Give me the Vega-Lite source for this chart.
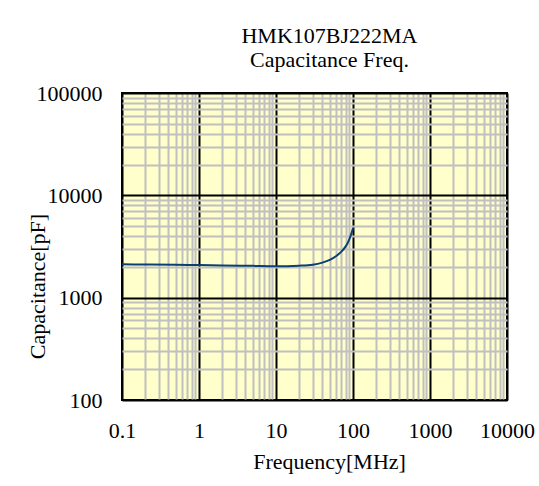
{
  "$schema": "https://vega.github.io/schema/vega-lite/v6.json",
  "autosize": {"type": "none"},
  "padding": {"left": 122, "top": 93, "right": 32, "bottom": 86},
  "width": 385,
  "height": 307,
  "background": "white",
  "config": {
    "view": {"fill": "#ffffcc", "stroke": "black", "strokeWidth": 2},
    "font": "Liberation Serif"
  },
  "title": {
    "text": ["HMK107BJ222MA", "Capacitance Freq."],
    "font": "Liberation Serif",
    "fontSize": 22,
    "fontWeight": "normal",
    "color": "black",
    "anchor": "middle",
    "dx": 15,
    "offset": 10,
    "lineHeight": 24
  },
  "data": {
    "values": [
      {"f": 0.1, "c": 2120},
      {"f": 0.2, "c": 2110},
      {"f": 0.5, "c": 2095},
      {"f": 1, "c": 2080},
      {"f": 2, "c": 2065},
      {"f": 5, "c": 2045},
      {"f": 10, "c": 2030},
      {"f": 20, "c": 2055},
      {"f": 30, "c": 2100},
      {"f": 40, "c": 2200},
      {"f": 50, "c": 2340},
      {"f": 60, "c": 2540},
      {"f": 70, "c": 2800},
      {"f": 80, "c": 3150},
      {"f": 85, "c": 3400},
      {"f": 90, "c": 3750},
      {"f": 95, "c": 4200},
      {"f": 100, "c": 4800}
    ]
  },
  "mark": {"type": "line", "color": "#0b3f73", "strokeWidth": 2, "interpolate": "monotone"},
  "encoding": {
    "x": {
      "field": "f",
      "type": "quantitative",
      "scale": {"type": "log", "domain": [0.1, 10000], "nice": false},
      "axis": {
        "title": "Frequency[MHz]",
        "values": [0.1,0.2,0.3,0.4,0.5,0.6,0.7,0.8,0.9,1,2,3,4,5,6,7,8,9,10,20,30,40,50,60,70,80,90,100,200,300,400,500,600,700,800,900,1000,2000,3000,4000,5000,6000,7000,8000,9000,10000],
        "format": "~g",
        "labelExpr": "abs(log(datum.value)/LN10 - round(log(datum.value)/LN10)) < 0.001 ? datum.label : ''",
        "domain": false,
        "ticks": false,
        "tickSize": 0,
        "labelFont": "Liberation Serif",
        "labelFontSize": 22,
        "labelColor": "black",
        "labelPadding": 37,
        "labelBaseline": "alphabetic",
        "labelFlush": false,
        "labelOverlap": false,
        "titleFont": "Liberation Serif",
        "titleFontSize": 22,
        "titleFontWeight": "normal",
        "titleColor": "black",
        "titleX": 207,
        "titleY": 68,
        "titleBaseline": "alphabetic",
        "grid": true,
        "gridColor": {"condition": {"test": "abs(log(datum.value)/LN10 - round(log(datum.value)/LN10)) < 0.001", "value": "black"}, "value": "#c0c0c0"},
        "gridWidth": 2,
        "gridOpacity": 1
      }
    },
    "y": {
      "field": "c",
      "type": "quantitative",
      "scale": {"type": "log", "domain": [100, 100000], "nice": false},
      "axis": {
        "title": "Capacitance[pF]",
        "values": [100,200,300,400,500,600,700,800,900,1000,2000,3000,4000,5000,6000,7000,8000,9000,10000,20000,30000,40000,50000,60000,70000,80000,90000,100000],
        "format": "~g",
        "labelExpr": "abs(log(datum.value)/LN10 - round(log(datum.value)/LN10)) < 0.001 ? datum.label : ''",
        "domain": false,
        "ticks": false,
        "tickSize": 0,
        "labelFont": "Liberation Serif",
        "labelFontSize": 22,
        "labelColor": "black",
        "labelPadding": 20,
        "labelBaseline": "middle",
        "labelFlush": false,
        "labelOverlap": false,
        "titleFont": "Liberation Serif",
        "titleFontSize": 22,
        "titleFontWeight": "normal",
        "titleColor": "black",
        "titleX": -85,
        "titleY": 193,
        "titleAngle": -90,
        "titleAlign": "center",
        "titleBaseline": "middle",
        "grid": true,
        "gridColor": {"condition": {"test": "abs(log(datum.value)/LN10 - round(log(datum.value)/LN10)) < 0.001", "value": "black"}, "value": "#c0c0c0"},
        "gridWidth": 2,
        "gridOpacity": 1
      }
    }
  }
}
